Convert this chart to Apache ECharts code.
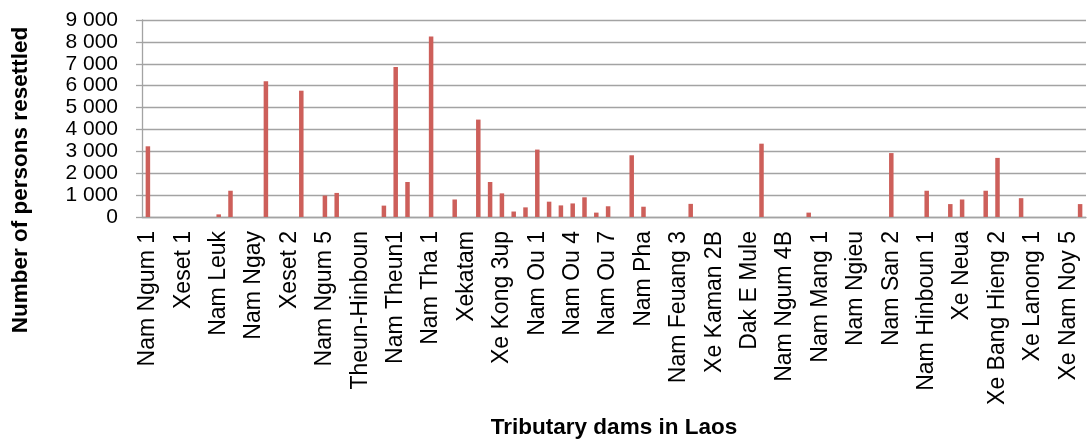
<!DOCTYPE html>
<html>
<head>
<meta charset="utf-8">
<title>Persons resettled by tributary dams in Laos</title>
<script src="https://cdn.jsdelivr.net/npm/echarts@6/dist/echarts.min.js"></script>
<style>
  html, body { margin: 0; padding: 0; background: #fff; }
  #chart { width: 1089px; height: 442px; }
</style>
</head>
<body>
<div id="chart"></div>
<script>
// Categories: only every third dam is labelled on the axis
const dams = [
  'Nam Ngum 1', '', '', 'Xeset 1', '', '', 'Nam Leuk', '', '', 'Nam Ngay', '', '',
  'Xeset 2', '', '', 'Nam Ngum 5', '', '', 'Theun-Hinboun', '', '', 'Nam Theun1', '', '',
  'Nam Tha 1', '', '', 'Xekatam', '', '', 'Xe Kong 3up', '', '', 'Nam Ou 1', '', '',
  'Nam Ou 4', '', '', 'Nam Ou 7', '', '', 'Nam Pha', '', '', 'Nam Feuang 3', '', '',
  'Xe Kaman 2B', '', '', 'Dak E Mule', '', '', 'Nam Ngum 4B', '', '', 'Nam Mang 1', '', '',
  'Nam Ngieu', '', '', 'Nam San 2', '', '', 'Nam Hinboun 1', '', '', 'Xe Neua', '', '',
  'Xe Bang Hieng 2', '', '', 'Xe Lanong 1', '', '', 'Xe Nam Noy 5', ''
]

// Persons resettled per dam
const resettled = [
  3230, 0, 0, 0, 0, 0, 120, 1200, 0, 0,
  6200, 0, 0, 5770, 0, 980, 1100, 0, 0, 0,
  520, 6850, 1600, 0, 8250, 0, 800, 0, 4450, 1600,
  1080, 250, 440, 3080, 700, 530, 620, 900, 200, 490,
  0, 2820, 470, 0, 0, 0, 600, 0, 0, 0,
  0, 0, 3350, 0, 0, 0, 200, 0, 0, 0,
  0, 0, 0, 2920, 0, 0, 1200, 0, 590, 800,
  0, 1200, 2700, 0, 860, 0, 0, 0, 0, 590
]

const yTicks = [0, 1000, 2000, 3000, 4000, 5000, 6000, 7000, 8000, 9000]

const FONT = '"Liberation Sans", Arial, sans-serif'
const GRID_COLOR = '#a3a3a3'
const BAR_COLOR = '#cd5f5a'

const fmtThousands = (v) => String(v).replace(/\B(?=(\d{3})+(?!\d))/g, ' ')

const chart = echarts.init(document.getElementById('chart'), null, { renderer: 'canvas' })

const option = {
  animation: false,
  backgroundColor: '#fff',
  grid: {
    left: 142,
    right: 3,
    top: 20,
    bottom: 225
  },
  xAxis: {
    type: 'category',
    data: dams,
    boundaryGap: true,
    name: 'Tributary dams in Laos',
    nameLocation: 'middle',
    nameGap: 199,
    nameTextStyle: {
      fontFamily: FONT,
      fontSize: 22.5,
      fontWeight: 'bold',
      color: '#000'
    },
    axisLine: { lineStyle: { color: GRID_COLOR, width: 1.3 } },
    axisTick: {
      interval: 0,
      length: 6,
      lineStyle: { color: GRID_COLOR, width: 1.3 }
    },
    axisLabel: {
      interval: 0,
      rotate: 90,
      margin: 14,
      fontFamily: FONT,
      fontSize: 23,
      color: '#000'
    }
  },
  yAxis: {
    type: 'value',
    min: yTicks[0],
    max: yTicks[yTicks.length - 1],
    interval: yTicks[1] - yTicks[0],
    axisLine: { show: true, lineStyle: { color: GRID_COLOR, width: 1.3 } },
    axisTick: { show: true, length: 6, lineStyle: { color: GRID_COLOR, width: 1.3 } },
    splitLine: { lineStyle: { color: GRID_COLOR, width: 1.3 } },
    axisLabel: {
      margin: 24,
      fontFamily: FONT,
      fontSize: 21,
      color: '#000',
      formatter: fmtThousands
    }
  },
  graphic: [
    {
      type: 'text',
      x: 21,
      y: 180,
      rotation: Math.PI / 2,
      style: {
        text: 'Number of persons resettled',
        fontFamily: FONT,
        fontSize: 22.5,
        fontWeight: 'bold',
        fill: '#000',
        align: 'center',
        verticalAlign: 'middle'
      }
    }
  ],
  series: [
    {
      type: 'bar',
      data: resettled,
      barWidth: 4.5,
      itemStyle: { color: BAR_COLOR }
    }
  ]
}

chart.setOption(option)
</script>
</body>
</html>
